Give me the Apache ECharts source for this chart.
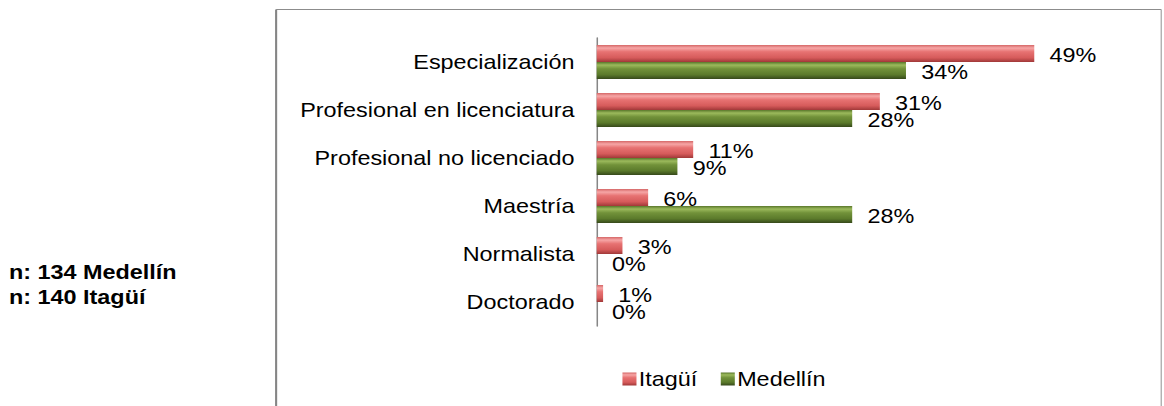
<!DOCTYPE html>
<html>
<head>
<meta charset="utf-8">
<script src="https://cdn.jsdelivr.net/npm/echarts@6/dist/echarts.min.js"></script>
<style>
    html, body {
        margin: 0;
        padding: 0;
        background: #fff;
        overflow: hidden;
    }
    /* la imagen original viene estirada en horizontal, se reproduce con scaleX */
    #chart {
        width: 995px;
        height: 406px;
        transform: scaleX(1.17);
        transform-origin: 0 0;
    }
</style>
</head>
<body>
<div id="chart"></div>
<script type="text/javascript">
    var categorias = ['Especialización', 'Profesional en licenciatura', 'Profesional no licenciado', 'Maestría', 'Normalista', 'Doctorado'];
    var itagui = [48.57, 31.43, 10.71, 5.71, 2.86, 0.71];     // n = 140
    var medellin = [34.33, 28.36, 8.96, 28.36, 0, 0];        // n = 134
    var notas = ['n: 134 Medellín', 'n: 140 Itagüí'];

    var fuente = '"Liberation Sans", Arial, sans-serif';

    function degradado(c) {
        return new echarts.graphic.LinearGradient(0, 0, 0, 1, [
            {offset: 0, color: c[0]},
            {offset: 0.18, color: c[1]},
            {offset: 0.4, color: c[2]},
            {offset: 0.75, color: c[3]},
            {offset: 1, color: c[4]}
        ]);
    }
    var rojo = ['#d56767', '#f6a6a6', '#e77272', '#d65b5b', '#a03838'];
    var verde = ['#5a772b', '#9cba5c', '#72923a', '#5b7a2b', '#36491a'];

    var etiqueta = {
        show: true,
        position: 'right',
        distance: 13,
        offset: [0, 2],
        fontFamily: fuente,
        fontSize: 20,
        color: '#000',
        formatter: function (p) { return Math.round(p.value) + '%'; }
    };

    var chart = echarts.init(document.getElementById('chart'), null, {renderer: 'svg'});
    var option = {
        animation: false,
        grid: {
            left: 510,
            right: 23,
            top: 38,
            bottom: 80
        },
        legend: {
            left: 527,
            top: 364,
            itemWidth: 12,
            itemHeight: 13,
            itemGap: 20,
            icon: 'rect',
            textStyle: {fontFamily: fuente, fontSize: 20, color: '#000', padding: [0, 0, 0, -3]},
            data: ['Itagüí', 'Medellín']
        },
        xAxis: {
            type: 'value',
            min: 0,
            max: 60,
            show: false
        },
        yAxis: {
            type: 'category',
            inverse: true,
            data: categorias,
            axisLine: {lineStyle: {color: '#868686', width: 1.3}},
            axisTick: {show: false},
            axisLabel: {margin: 19, fontFamily: fuente, fontSize: 20, color: '#000'}
        },
        graphic: [
            {type: 'line', shape: {x1: 236, y1: 9.5, x2: 236, y2: 406}, style: {stroke: '#858585', lineWidth: 1.8}},
            {type: 'line', shape: {x1: 236, y1: 9.5, x2: 992.5, y2: 9.5}, style: {stroke: '#8c8c8c', lineWidth: 1}},
            {type: 'line', shape: {x1: 992.5, y1: 9.5, x2: 992.5, y2: 406}, style: {stroke: '#a0a0a0', lineWidth: 1}},
            {type: 'text', x: 7.7, y: 272.5, style: {text: notas[0], font: 'bold 20px ' + fuente, fill: '#000', verticalAlign: 'middle'}},
            {type: 'text', x: 7.7, y: 297, style: {text: notas[1], font: 'bold 20px ' + fuente, fill: '#000', verticalAlign: 'middle'}}
        ],
        series: [
            {
                name: 'Itagüí',
                type: 'bar',
                data: itagui,
                barWidth: 17,
                barGap: '0%',
                itemStyle: {color: degradado(rojo)},
                label: etiqueta
            },
            {
                name: 'Medellín',
                type: 'bar',
                data: medellin,
                barWidth: 17,
                barGap: '0%',
                itemStyle: {color: degradado(verde)},
                label: etiqueta
            }
        ]
    };
    chart.setOption(option);
</script>
</body>
</html>
